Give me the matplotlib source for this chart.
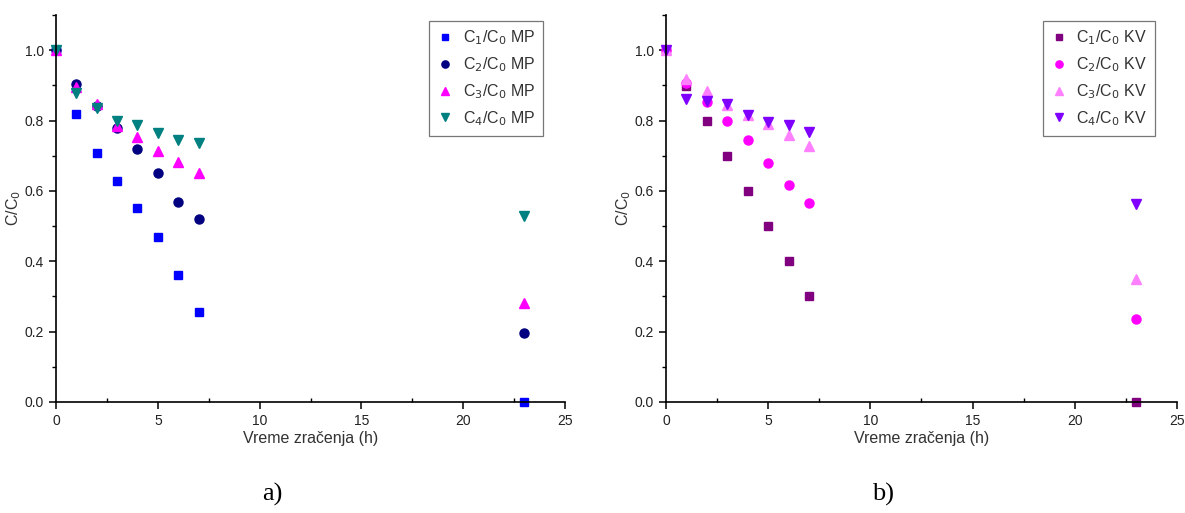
import matplotlib
matplotlib.use("Agg")
import matplotlib.pyplot as plt
from matplotlib.ticker import MultipleLocator

plt.rcParams['font.family'] = ['Liberation Sans', 'DejaVu Sans']

t = [0, 1, 2, 3, 4, 5, 6, 7, 23]

mp_c1 = [1.0, 0.819, 0.708, 0.627, 0.55, 0.469, 0.361, 0.256, 0.0]
mp_c2 = [1.0, 0.905, 0.841, 0.779, 0.718, 0.65, 0.569, 0.52, 0.196]
mp_c3 = [1.0, 0.896, 0.848, 0.784, 0.754, 0.713, 0.683, 0.651, 0.281]
mp_c4 = [1.0, 0.877, 0.837, 0.798, 0.787, 0.764, 0.745, 0.735, 0.528]

kv_c1 = [1.0, 0.899, 0.8, 0.7, 0.6, 0.5, 0.4, 0.3, 0.0]
kv_c2 = [1.0, 0.908, 0.854, 0.8, 0.744, 0.68, 0.617, 0.567, 0.236]
kv_c3 = [1.0, 0.919, 0.883, 0.843, 0.815, 0.79, 0.758, 0.729, 0.35]
kv_c4 = [1.0, 0.86, 0.856, 0.848, 0.816, 0.797, 0.786, 0.767, 0.564]

mp_labels = ['C$_1$/C$_0$ MP', 'C$_2$/C$_0$ MP', 'C$_3$/C$_0$ MP', 'C$_4$/C$_0$ MP']
kv_labels = ['C$_1$/C$_0$ KV', 'C$_2$/C$_0$ KV', 'C$_3$/C$_0$ KV', 'C$_4$/C$_0$ KV']
mp_colors = ['#0000FF', '#000080', '#FF00FF', '#008080']
kv_colors = ['#800080', '#FF00FF', '#FF80FF', '#8000FF']
markers = ['s', 'o', '^', 'v']
msizes = [5.5, 6.5, 7, 7]

fig = plt.figure(figsize=(11.85, 5.13), dpi=100)
ax1 = fig.add_axes([0.0473, 0.2164, 0.4295, 0.7544])
ax2 = fig.add_axes([0.562, 0.2164, 0.4312, 0.7544])

def draw(ax, series, labels, colors, panel):
    for ys, lab, col, m, ms in zip(series, labels, colors, markers, msizes):
        ax.plot(t, ys, linestyle='none', marker=m, color=col, markersize=ms,
                label=lab, clip_on=False)
    ax.set_xlim(0, 25)
    ax.set_ylim(0, 1.1)
    ax.xaxis.set_major_locator(MultipleLocator(5))
    ax.xaxis.set_minor_locator(MultipleLocator(2.5))
    ax.yaxis.set_major_locator(MultipleLocator(0.2))
    ax.yaxis.set_minor_locator(MultipleLocator(0.1))
    ax.yaxis.set_major_formatter(matplotlib.ticker.FormatStrFormatter('%.1f'))
    for s in ['top', 'right']:
        ax.spines[s].set_visible(False)
    for s in ['left', 'bottom']:
        ax.spines[s].set_linewidth(1.2)
    ax.tick_params(axis='both', which='major', direction='out', length=5, width=1.1,
                   labelsize=10, labelcolor='#222222')
    ax.tick_params(axis='y', which='minor', direction='out', length=3, width=1.0)
    ax.tick_params(axis='x', which='minor', direction='in', length=3, width=1.0)
    ax.set_xlabel('Vreme zračenja (h)', fontsize=11.5, color='#333333', labelpad=2)
    ax.set_ylabel('C/C$_0$', fontsize=11.5, color='#333333', labelpad=1)
    leg = ax.legend(loc='upper right', bbox_to_anchor=(0.957, 0.985), fontsize=11.5,
                    frameon=True, fancybox=False, handlelength=1.0, handletextpad=0.6,
                    borderpad=0.5, labelspacing=0.5, borderaxespad=0.0,
                    markerscale=0.8)
    leg.get_frame().set_edgecolor('#555555')
    leg.get_frame().set_linewidth(0.9)
    for txt in leg.get_texts():
        txt.set_color('#333333')
    ax.text(0.424, -0.24, panel, transform=ax.transAxes, ha='center', va='center',
            fontsize=19, family=['Liberation Serif', 'DejaVu Serif'])

draw(ax1, [mp_c1, mp_c2, mp_c3, mp_c4], mp_labels, mp_colors, 'a)')
draw(ax2, [kv_c1, kv_c2, kv_c3, kv_c4], kv_labels, kv_colors, 'b)')

fig.savefig('out.png', dpi=100, facecolor='white')
